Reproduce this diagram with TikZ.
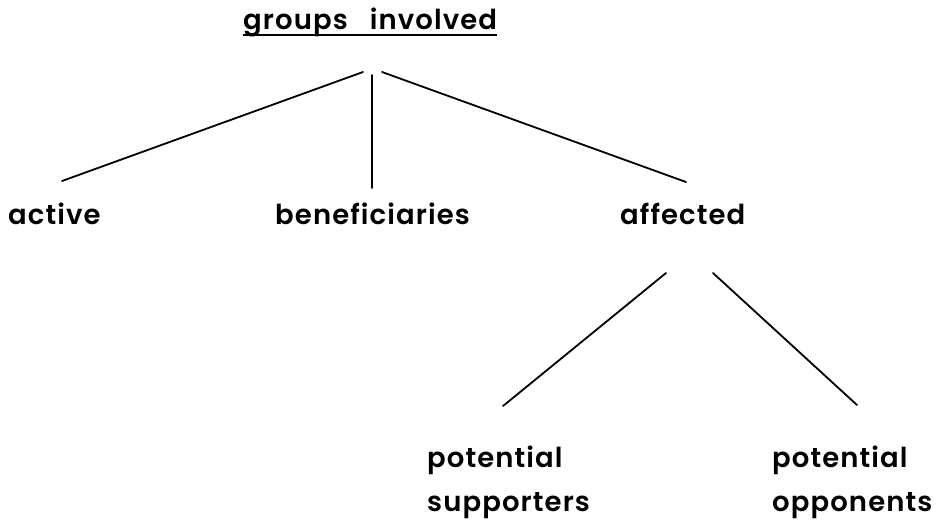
\documentclass[tikz,border=0pt]{standalone}
\usepackage{fontspec}
\setmainfont{Poppins}[BoldFont={Poppins SemiBold},BoldFeatures={LetterSpace=4}]
\begin{document}
\begin{tikzpicture}[x=1pt,y=-1pt,
  lbl/.style={anchor=base west,inner sep=0pt,font=\fontsize{27.5}{30}\selectfont\bfseries},
  conn/.style={line width=1.8pt,line cap=round}]
\useasboundingbox (0,0) rectangle (944,522);
\node[lbl] (root) at (243,29) {groups\hspace{22pt}involved};
\node[lbl] (act) at (8,224) {active};
\node[lbl] (ben) at (275,224) {beneficiaries};
\node[lbl] (aff) at (620,224) {affected};
\node[lbl] (ps1) at (427,467) {potential};
\node[lbl] (ps2) at (427,511) {supporters};
\node[lbl] (po1) at (772,467) {potential};
\node[lbl] (po2) at (772,511) {opponents};
\draw[line width=2.4pt] (root.base west) ++(0,6) -- ++(254,0);
\coordinate (r1) at (363,72); \coordinate (a1) at (62,181);
\coordinate (r2) at (372,75); \coordinate (b1) at (372,188);
\coordinate (r3) at (382,72); \coordinate (f1) at (686,182);
\coordinate (f2) at (666,273); \coordinate (s1) at (503,406);
\coordinate (f3) at (713,273); \coordinate (o1) at (857,405);
\draw[conn] (r1) -- (a1);
\draw[conn] (r2) -- (b1);
\draw[conn] (r3) -- (f1);
\draw[conn] (f2) -- (s1);
\draw[conn] (f3) -- (o1);
\end{tikzpicture}
\end{document}
